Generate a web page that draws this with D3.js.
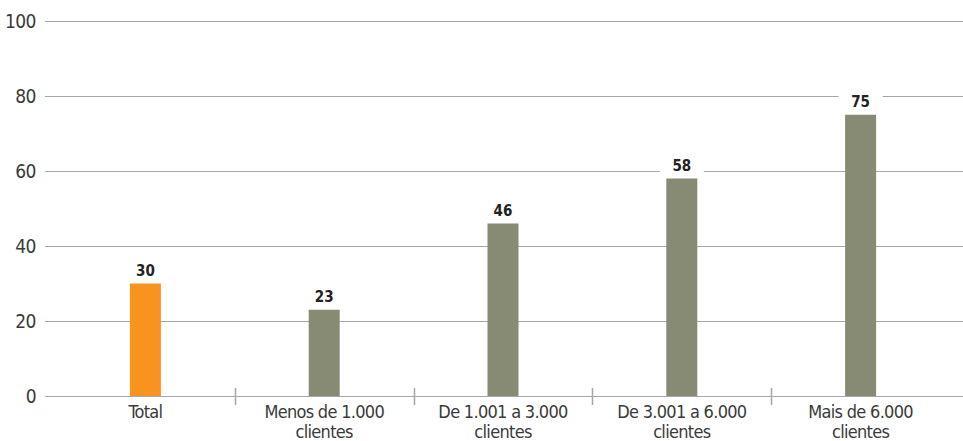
<!DOCTYPE html>
<html>
<head>
<meta charset="utf-8">
<script src="https://cdn.jsdelivr.net/npm/d3@7"></script>
<style>
  html, body { margin: 0; padding: 0; background: #fff; }
  svg { display: block; }
  text { font-family: "DejaVu Sans", sans-serif; font-stretch: condensed; }
</style>
</head>
<body>
<svg id="chart" width="963" height="441"></svg>
<script>
// Share of companies by client base size (%)
const categories = ["Total", "Menos de 1.000\nclientes", "De 1.001 a 3.000\nclientes", "De 3.001 a 6.000\nclientes", "Mais de 6.000\nclientes"];
const values = [30, 23, 46, 58, 75];
const yTicks = [0, 20, 40, 60, 80, 100];
const barColors = ["#F7931E", "#888B74", "#888B74", "#888B74", "#888B74"];

const svg = d3.select("#chart");
const plot = { left: 45, right: 963, top: 21, bottom: 396 };

const x = d3.scaleBand()
  .domain(categories)
  .range([56, 950])
  .paddingInner(0)
  .paddingOuter(0);

const y = d3.scaleLinear()
  .domain([0, 100])
  .range([plot.bottom, plot.top]);

// Horizontal gridlines with labels
const grid = svg.append("g");
grid.selectAll("line")
  .data(yTicks)
  .join("line")
  .attr("x1", plot.left)
  .attr("x2", plot.right)
  .attr("y1", d => Math.round(y(d)) + 0.5)
  .attr("y2", d => Math.round(y(d)) + 0.5)
  .attr("stroke", "#a6a6a6")
  .attr("stroke-width", 1.2);

grid.selectAll("text")
  .data(yTicks)
  .join("text")
  .attr("x", 36)
  .attr("y", d => y(d))
  .attr("dy", "0.35em")
  .attr("text-anchor", "end")
  .attr("font-size", 19)
  .attr("letter-spacing", -0.5)
  .attr("fill", "#3a3a3a")
  .text(d => d);

// Separators between categories
const seps = categories.slice(1);
svg.append("g").selectAll("line")
  .data(seps)
  .join("line")
  .attr("x1", d => Math.round(x(d)) + 0.5)
  .attr("x2", d => Math.round(x(d)) + 0.5)
  .attr("y1", plot.bottom - 8)
  .attr("y2", plot.bottom + 9)
  .attr("stroke", "#a6a6a6")
  .attr("stroke-width", 1.5);

// Bars
const barW = 31;
svg.append("g").selectAll("rect")
  .data(values)
  .join("rect")
  .attr("x", (d, i) => x(categories[i]) + x.bandwidth() / 2 - barW / 2)
  .attr("y", d => y(d))
  .attr("width", barW)
  .attr("height", d => y(0) - y(d))
  .attr("fill", (d, i) => barColors[i]);

// Value labels on white backing
const lbl = svg.append("g").selectAll("g")
  .data(values)
  .join("g")
  .attr("transform", (d, i) => `translate(${x(categories[i]) + x.bandwidth() / 2},${y(d) - 13})`);

lbl.append("rect")
  .attr("x", -22)
  .attr("y", -11)
  .attr("width", 44)
  .attr("height", 21)
  .attr("fill", "#fff");

lbl.append("text")
  .attr("text-anchor", "middle")
  .attr("dy", "0.35em")
  .attr("font-size", 15)
  .attr("font-weight", "bold")
  .attr("fill", "#222")
  .text(d => d);

// Category labels
const cat = svg.append("g").selectAll("text")
  .data(categories)
  .join("text")
  .attr("x", d => x(d) + x.bandwidth() / 2)
  .attr("y", 418)
  .attr("text-anchor", "middle")
  .attr("font-size", 18)
  .attr("letter-spacing", -0.7)
  .attr("fill", "#3a3a3a");

cat.selectAll("tspan")
  .data(d => d.split("\n"))
  .join("tspan")
  .attr("x", function () { return d3.select(this.parentNode).attr("x"); })
  .attr("dy", (d, i) => i === 0 ? 0 : 20)
  .text(d => d);
</script>
</body>
</html>
